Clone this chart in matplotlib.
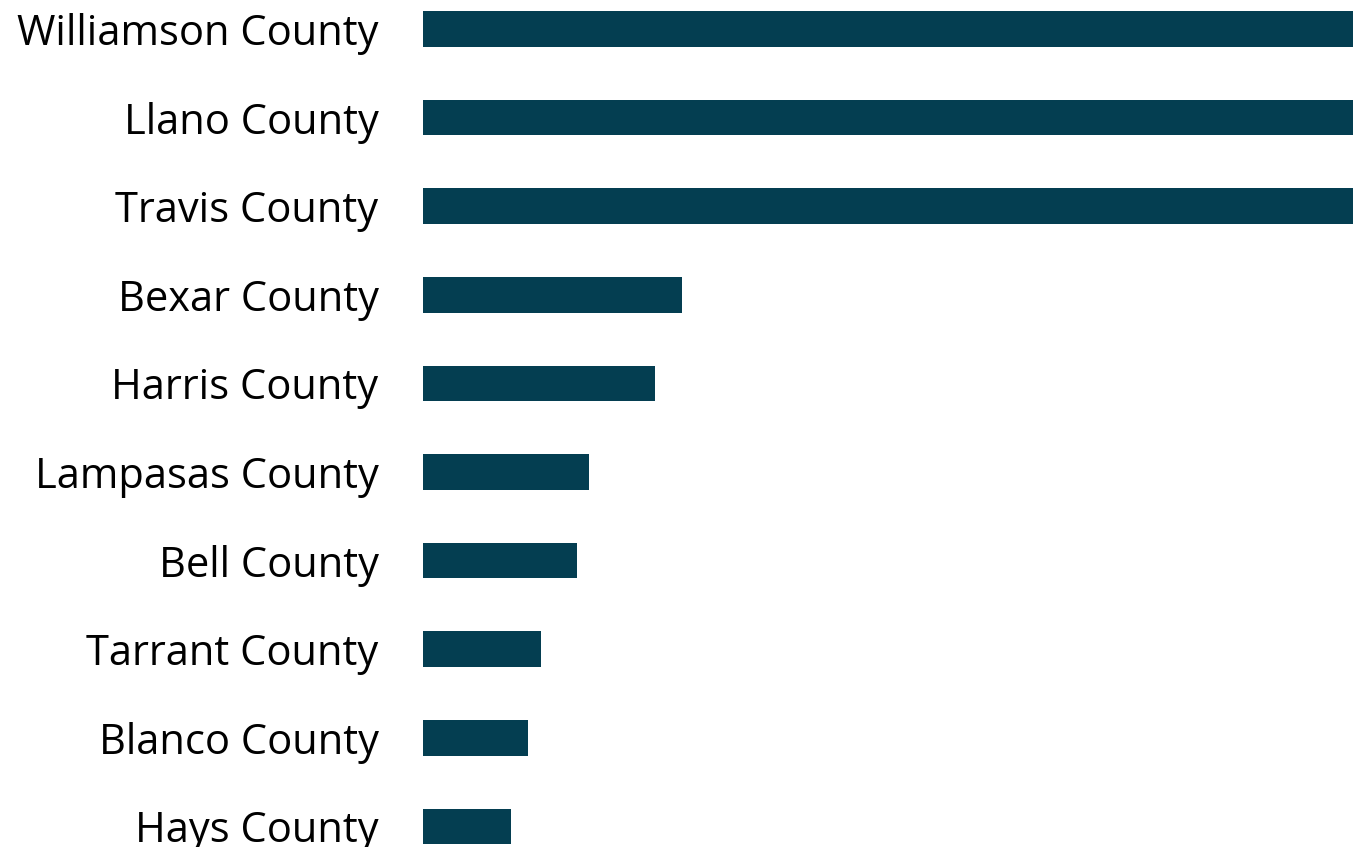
import matplotlib.pyplot as plt

# Data (top three bars run past the right edge)
counties = ['Williamson County', 'Llano County', 'Travis County', 'Bexar County',
            'Harris County', 'Lampasas County', 'Bell County', 'Tarrant County',
            'Blanco County', 'Hays County']
values = [100, 100, 100, 27.8, 24.9, 17.8, 16.6, 12.7, 11.3, 9.5]

bar_color = '#043E51'

fig = plt.figure(figsize=(13.53, 8.47), dpi=100)
ax = fig.add_axes([423 / 1353, 0, 1 - 423 / 1353, 1])

positions = list(range(len(counties)))
ax.barh(positions, values, height=0.4, color=bar_color)

ax.set_xlim(0, 100)
# first bar centre at 29 px, spacing ~88.6 px, figure height 847 px
ax.set_ylim((847 - 29) / 88.6, -29 / 88.6)

ax.set_yticks(positions)
ax.set_yticklabels(counties, fontsize=30, family='Open Sans')
ax.tick_params(axis='y', length=0, pad=32)
ax.set_xticks([])
for spine in ax.spines.values():
    spine.set_visible(False)

fig.savefig('out.png', dpi=100)
